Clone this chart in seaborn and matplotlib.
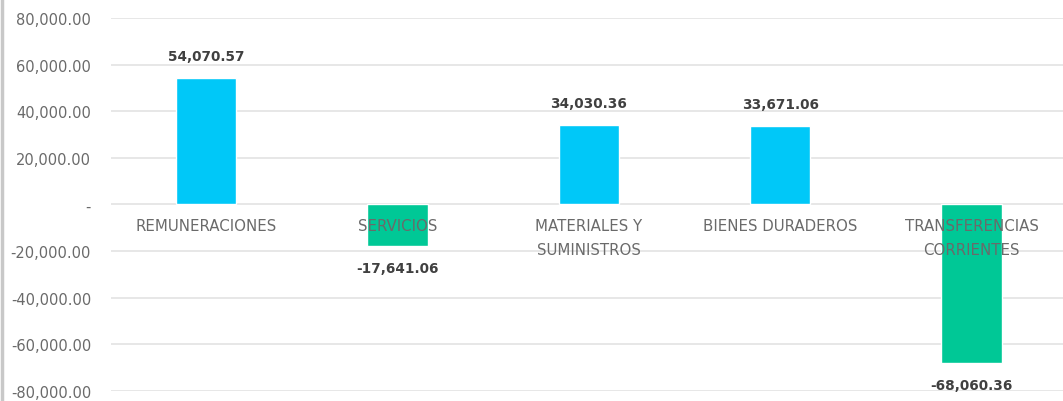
import pandas as pd
import numpy as np
import matplotlib
matplotlib.use("Agg")
import matplotlib.pyplot as plt
from matplotlib.ticker import FuncFormatter, MultipleLocator
from matplotlib.lines import Line2D
import seaborn as sns

# -----------------------------
# Data
# -----------------------------
categories = ["REMUNERACIONES", "SERVICIOS", "MATERIALES Y\nSUMINISTROS",
              "BIENES DURADEROS", "TRANSFERENCIAS\nCORRIENTES"]
values = [54070.57, -17641.06, 34030.36, 33671.06, -68060.36]
value_labels = ["54,070.57", "-17,641.06", "34,030.36", "33,671.06", "-68,060.36"]

pos_color = "#00C8F8"
neg_color = "#00C896"

df = pd.DataFrame({"cat": categories, "val": values})
df["sign"] = np.where(df["val"] >= 0, "pos", "neg")

sns.set_theme(style="white")
plt.rcParams["font.family"] = ["DejaVu Sans"]

fig = plt.figure(figsize=(10.63, 4.02), dpi=100)
ax = fig.add_axes([0.104, 0.025, 0.9, 0.928])

sns.barplot(data=df, x="cat", y="val", hue="sign",
            palette={"pos": pos_color, "neg": neg_color},
            dodge=False, width=0.315, legend=False, ax=ax, saturation=1)

ax.set_ylim(-80000, 80000)
ax.set_xlim(-0.5, 4.5)
ax.yaxis.set_major_locator(MultipleLocator(20000))


def fmt(v, pos):
    if abs(v) < 1e-6:
        return "-"
    return f"{v:,.2f}"


ax.yaxis.set_major_formatter(FuncFormatter(fmt))
ax.tick_params(axis="y", labelsize=10.5, labelcolor="#6a6a6a", length=0, pad=14)
ax.set_xticks([])
ax.set_xlabel("")
ax.set_ylabel("")
ax.grid(axis="y", color="#e3e3e3", linewidth=1.2)
ax.set_axisbelow(True)
for s in ax.spines.values():
    s.set_visible(False)

# category labels drawn at the zero line
for i, c in enumerate(categories):
    ax.annotate(c, xy=(i, 0), xytext=(0, -10), textcoords="offset points",
                ha="center", va="top", fontsize=10.8, color="#6a6a6a",
                linespacing=1.75)

# value labels above / below the bars
for i, (v, lab) in enumerate(zip(values, value_labels)):
    off = 16 if v >= 0 else -16
    ax.annotate(lab, xy=(i, v), xytext=(0, off), textcoords="offset points",
                ha="center", va="center", fontsize=9.8, color="#404040",
                fontweight="bold")

# chart border on the left
fig.add_artist(Line2D([0.002, 0.002], [0, 1], color="#c8c8c8", linewidth=2.5,
                      transform=fig.transFigure))

fig.savefig("out.png", dpi=100)
